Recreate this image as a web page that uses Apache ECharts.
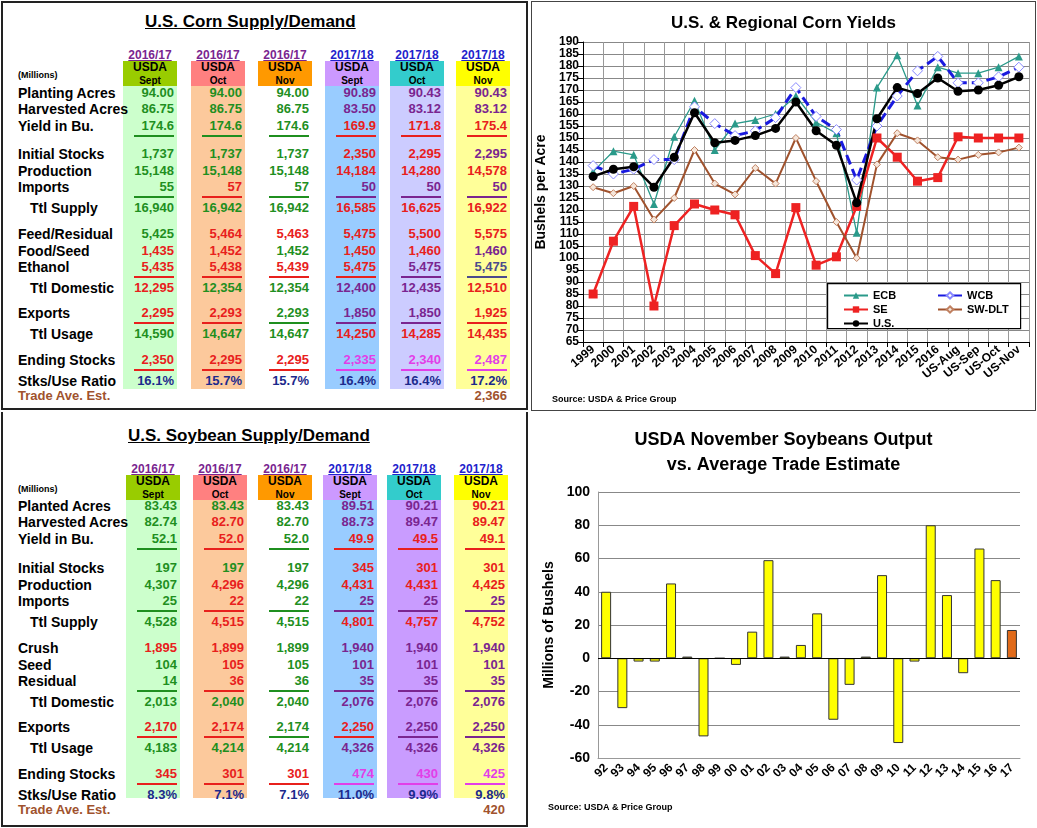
<!DOCTYPE html>
<html><head><meta charset="utf-8">
<script src="https://cdn.jsdelivr.net/npm/echarts@6/dist/echarts.min.js"></script>
<style>
body{margin:0;width:1037px;height:828px;position:relative;background:#fff;font-family:"Liberation Sans",Arial,sans-serif;overflow:hidden}
.a{position:absolute;white-space:nowrap}
</style></head><body>
<div id="tables"></div>
<div id="corn" class="a" style="left:532px;top:2px;width:503px;height:408px"></div>
<div id="soy" class="a" style="left:532px;top:414px;width:503px;height:412px"></div>
<script>
// ---------- data ----------
const cornYears = ['1999','2000','2001','2002','2003','2004','2005','2006','2007','2008','2009','2010','2011','2012','2013','2014','2015','2016','US-Aug','US-Sep','US-Oct','US-Nov'];
const ecb = [136,144.5,143,122.5,150.5,165.5,145,156,157.5,160,167.5,156.5,152,110.5,171,184.5,163.5,179.5,177,177,179.5,184];
const wcb = [138.5,135,137,141,141,163,156,151,153,158.5,171,159,153.5,132.5,155,167.5,178,184,173,173,175.5,179.5];
const se = [85,107,121.5,80,113.5,122.5,120,118,101,93.5,121,97,100.5,121.5,150,142,132,133.5,150.5,150,150,150];
const swdlt = [129.5,127,130,116,125,145,131,126.5,137.5,131,150,132,115,100,139,152,149,142,141,143,144,146];
const us = [134,137,138,129.5,142,160.5,148,149,151,154,165,153,147,123,158,171,168.5,175,169.5,170,172,175.5];

const soyYears = ['92','93','94','95','96','97','98','99','00','01','02','03','04','05','06','07','08','09','10','11','12','13','14','15','16','17'];
const soyDiff = [40,-30,-2,-2,45,1,-47,0,-4,16,59,1,8,27,-37,-16,1,50,-51,-2,80,38,-9,66,47,17];

const colYears = ['2016/17','2016/17','2016/17','2017/18','2017/18','2017/18'];
const colMonths = ['Sept','Oct','Nov','Sept','Oct','Nov'];

const cornLabels = ['Planting Acres','Harvested Acres','Yield in Bu.','Initial Stocks','Production','Imports','Ttl Supply','Feed/Residual','Food/Seed','Ethanol','Ttl Domestic','Exports','Ttl Usage','Ending Stocks','Stks/Use Ratio'];
const cornValues = [
 ['94.00','94.00','94.00','90.89','90.43','90.43'],
 ['86.75','86.75','86.75','83.50','83.12','83.12'],
 ['174.6','174.6','174.6','169.9','171.8','175.4'],
 ['1,737','1,737','1,737','2,350','2,295','2,295'],
 ['15,148','15,148','15,148','14,184','14,280','14,578'],
 ['55','57','57','50','50','50'],
 ['16,940','16,942','16,942','16,585','16,625','16,922'],
 ['5,425','5,464','5,463','5,475','5,500','5,575'],
 ['1,435','1,452','1,452','1,450','1,460','1,460'],
 ['5,435','5,438','5,439','5,475','5,475','5,475'],
 ['12,295','12,354','12,354','12,400','12,435','12,510'],
 ['2,295','2,293','2,293','1,850','1,850','1,925'],
 ['14,590','14,647','14,647','14,250','14,285','14,435'],
 ['2,350','2,295','2,295','2,335','2,340','2,487'],
 ['16.1%','15.7%','15.7%','16.4%','16.4%','17.2%']];
const cornTrade = '2,366';

const soyLabels = ['Planted Acres','Harvested Acres','Yield in Bu.','Initial Stocks','Production','Imports','Ttl Supply','Crush','Seed','Residual','Ttl Domestic','Exports','Ttl Usage','Ending Stocks','Stks/Use Ratio'];
const soyValues = [
 ['83.43','83.43','83.43','89.51','90.21','90.21'],
 ['82.74','82.70','82.70','88.73','89.47','89.47'],
 ['52.1','52.0','52.0','49.9','49.5','49.1'],
 ['197','197','197','345','301','301'],
 ['4,307','4,296','4,296','4,431','4,431','4,425'],
 ['25','22','22','25','25','25'],
 ['4,528','4,515','4,515','4,801','4,757','4,752'],
 ['1,895','1,899','1,899','1,940','1,940','1,940'],
 ['104','105','105','101','101','101'],
 ['14','36','36','35','35','35'],
 ['2,013','2,040','2,040','2,076','2,076','2,076'],
 ['2,170','2,174','2,174','2,250','2,250','2,250'],
 ['4,183','4,214','4,214','4,326','4,326','4,326'],
 ['345','301','301','474','430','425'],
 ['8.3%','7.1%','7.1%','11.0%','9.9%','9.8%']];
const soyTrade = '420';

// ---------- layout / style ----------
const C = {g:'#1f8f1f',r:'#e8201c',p:'#7a2590',b:'#1c2a8c',m:'#e23ee8',s:'#4b4b8c'};
const cornCodes = ['gggppp','gggppp','gggrrr','gggrrp','gggrrr','grgppp','gggrrr','grrrrr','rrgrrp','rrrrps','rggppr','rrgppr','gggrrr','rrrmmm','bbbbbb'];
const soyCodes  = ['gggppr','grgppr','grgrrr','gggrrr','grgrrr','grgppp','grgrrr','rrgppp','grgppp','grgppp','gggppp','rrgrpp','gggppp','rrrmmm','bbbbbb'];
const ul = [0,0,1,0,0,1,0,0,0,1,0,1,0,1,0];
const indent = [0,0,0,0,0,0,1,0,0,0,1,0,1,0,0];
const bgCols = ['#ccffcc','#fcc99c','#ffffff','#99ccff','#ccccff','#ffff99'];
const bgColsSoy = ['#ccffcc','#fcc99c','#ffffff','#99ccff','#c99cff','#ffff99'];
const hdrCols = ['#99cc00','#ff8080','#ff9900','#cc99ff','#33cccc','#ffff00'];

function el(html, style){const d=document.createElement('div');d.className='a';d.innerHTML=html;d.style.cssText=style;document.getElementById('tables').appendChild(d);return d;}

function table(o){
  el(o.title,`left:${o.titleX}px;top:${o.top}px;font:bold 17px 'Liberation Sans';text-decoration:underline`);
  const hy=o.top+38;
  el('(Millions)',`left:18px;top:${hy+20}px;font:bold 9px 'Liberation Sans'`);
  o.cols.forEach((cx,i)=>{
    el('',`left:${cx-27}px;top:${hy+36}px;width:54px;height:${o.bgBottom-hy-36}px;background:${o.bg[i]}`);
    el(colYears[i],`left:${cx-30}px;top:${hy-2}px;width:60px;text-align:center;font:bold 12px 'Liberation Sans';color:${i<3?'#7a2590':'#2222cc'};text-decoration:underline`);
    el(`USDA<br><span style="font-size:10px">${colMonths[i]}</span>`,`left:${cx-27}px;top:${hy+11}px;width:54px;height:25px;background:${hdrCols[i]};text-align:center;font:bold 12px/13px 'Liberation Sans'`);
  });
  o.labels.forEach((lab,r)=>{
    const y=o.rowY[r];
    el(lab,`left:${18+(indent[r]?12:0)}px;top:${y-8}px;font:bold 14px 'Liberation Sans'`);
    o.values[r].forEach((v,i)=>{
      const col=C[o.codes[r][i]];
      el(v,`left:${o.cols[i]-30}px;top:${y-8}px;width:54px;text-align:right;font:bold 13px 'Liberation Sans';color:${col}`);
      if(ul[r]) el('',`left:${o.cols[i]-16}px;top:${y+9}px;width:40px;height:2px;background:${col}`);
    });
  });
  const ty=o.rowY[o.rowY.length-1]+14;
  el('Trade Ave. Est.',`left:18px;top:${ty-7}px;font:bold 13px 'Liberation Sans';color:#a0522d`);
  el(o.trade,`left:${o.cols[5]-30}px;top:${ty-7}px;width:54px;text-align:right;font:bold 13px 'Liberation Sans';color:#a0522d`);
}
table({title:'U.S. Corn Supply/Demand',titleX:145,top:12,labels:cornLabels,values:cornValues,codes:cornCodes,
  cols:[150,218,285,352,417,483],bg:bgCols,bgBottom:389,trade:cornTrade,
  rowY:[93,109,126,154,171,187,208,234,251,267,288,313,334,360,381]});
table({title:'U.S. Soybean Supply/Demand',titleX:128,top:426,labels:soyLabels,values:soyValues,codes:soyCodes,
  cols:[153,220,285,350,414,481],bg:bgColsSoy,bgBottom:798,trade:soyTrade,
  rowY:[506,522,539,568,585,601,622,648,665,681,702,727,748,774,795]});
el('',`left:1px;top:1px;width:527px;height:409px;border:2px solid #222;box-sizing:border-box`);
el('',`left:1px;top:412px;width:527px;height:415px;border:2px solid #222;border-top:none;box-sizing:border-box`);
el('',`left:531px;top:1px;width:505px;height:410px;border:1px solid #444;box-sizing:border-box`);

// ---------- corn chart ----------
const corn = echarts.init(document.getElementById('corn'));
const ax = {fontFamily:'Liberation Sans',fontWeight:'bold',color:'#000'};
corn.setOption({
  animation:false,
  title:{text:'U.S. & Regional Corn Yields',left:'center',top:8,textStyle:{fontFamily:'Liberation Sans',fontSize:17,fontWeight:'bold',color:'#000'}},
  grid:{left:51,right:6,top:40,bottom:68,outerBoundsMode:'none'},
  graphic:[{type:'rect',left:295,top:281,shape:{width:193,height:45},style:{fill:'#fff',stroke:'#000',lineWidth:1.2},z:50},
           {type:'text',left:20,top:393,style:{text:'Source: USDA & Price Group',font:"bold 9px 'Liberation Sans'",fill:'#000'}}],
  legend:[
    {data:['ECB','SE','U.S.'],orient:'vertical',left:306,top:283,itemGap:3,itemWidth:24,itemHeight:8,z:60,textStyle:{...ax,fontSize:11}},
    {data:['WCB','SW-DLT'],orient:'vertical',left:400,top:283,itemGap:3,itemWidth:24,itemHeight:8,z:60,textStyle:{...ax,fontSize:11}}],
  xAxis:{type:'category',data:cornYears,boundaryGap:true,
    axisLabel:{...ax,fontSize:12,rotate:40,interval:0,margin:6},
    axisLine:{lineStyle:{color:'#000'}},axisTick:{show:true,interval:0,lineStyle:{color:'#000'}},
    splitLine:{show:true,interval:0,lineStyle:{color:'#999'}}},
  yAxis:{type:'value',min:65,max:190,interval:5,name:'Bushels per Acre',nameLocation:'middle',nameGap:34,
    nameTextStyle:{...ax,fontSize:14},
    axisLabel:{...ax,fontSize:12,margin:4},axisLine:{show:true,lineStyle:{color:'#000'}},axisTick:{show:true},
    splitLine:{lineStyle:{color:'#888'}}},
  series:[
    {name:'ECB',type:'line',data:ecb,symbol:'triangle',symbolSize:8,lineStyle:{color:'#2a9a8a',width:1.3},itemStyle:{color:'#2a9a8a'}},
    {name:'WCB',type:'line',data:wcb,symbol:'diamond',symbolSize:10,lineStyle:{color:'#1a1adf',width:3,type:[10,5]},itemStyle:{color:'#fff',borderColor:'#8888ff',borderWidth:1}},
    {name:'SE',type:'line',data:se,symbol:'rect',symbolSize:9,lineStyle:{color:'#ee2222',width:2.5},itemStyle:{color:'#ee2222'}},
    {name:'SW-DLT',type:'line',data:swdlt,symbol:'diamond',symbolSize:7,lineStyle:{color:'#a0522d',width:2},itemStyle:{color:'#f5e6da',borderColor:'#c08060',borderWidth:1}},
    {name:'U.S.',type:'line',data:us,symbol:'circle',symbolSize:9,lineStyle:{color:'#000',width:2.5},itemStyle:{color:'#000'}}]
});

// ---------- soybean chart ----------
const soy = echarts.init(document.getElementById('soy'));
soy.setOption({
  animation:false,
  title:{text:'USDA November Soybeans Output\nvs. Average Trade Estimate',left:'center',top:9,
    textStyle:{fontFamily:'Liberation Sans',fontSize:18,fontWeight:'bold',color:'#000',lineHeight:25}},
  grid:{left:66,right:15,top:78,bottom:68,outerBoundsMode:'none'},
  graphic:[{type:'text',left:16,top:389,style:{text:'Source: USDA & Price Group',font:"bold 9px 'Liberation Sans'",fill:'#000'}}],
  xAxis:{type:'category',data:soyYears,axisLabel:{...ax,fontSize:12,rotate:45,interval:0,margin:8},
    axisLine:{onZero:false,lineStyle:{color:'#999'}},axisTick:{show:false}},
  yAxis:{type:'value',min:-60,max:100,interval:20,name:'Millions of Bushels',nameLocation:'middle',nameGap:42,
    nameTextStyle:{...ax,fontSize:14},axisLabel:{...ax,fontSize:14},
    axisLine:{show:true,lineStyle:{color:'#999'}},splitLine:{lineStyle:{color:'#888'}}},
  series:[{type:'bar',barWidth:10,
    data:soyDiff.map((v,i)=>({value:v,itemStyle:{color:i===soyDiff.length-1?'#e06a1a':'#ffff00'}})),
    itemStyle:{borderColor:'#333',borderWidth:1},
    markLine:{silent:true,symbol:'none',label:{show:false},lineStyle:{color:'#000',width:1,type:'solid'},data:[{yAxis:0}]}}]
});
</script></body></html>
